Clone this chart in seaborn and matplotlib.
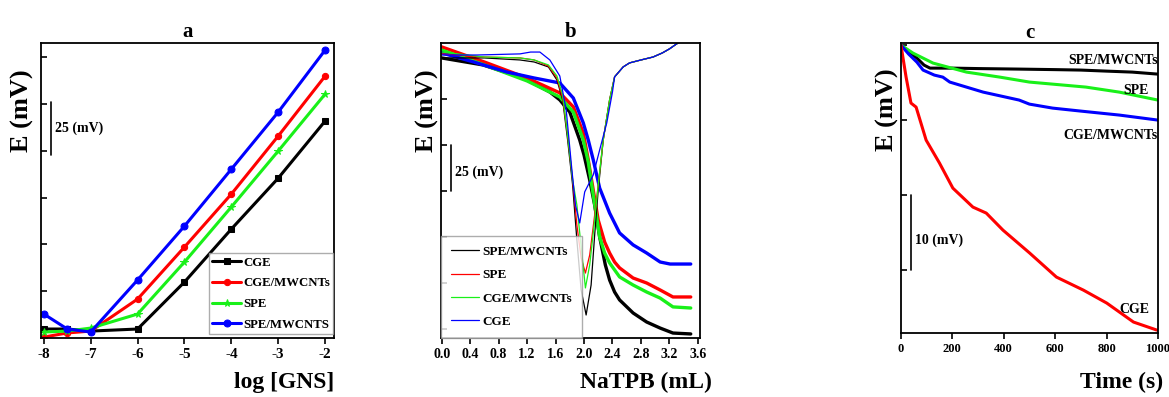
import pandas as pd
import matplotlib
matplotlib.use("Agg")
import matplotlib.pyplot as plt
import seaborn as sns

# ---- panel a : calibration ----
log_gns = [-8, -7.5, -7, -6, -5, -4, -3, -2]
a_cge = [4.8, 4.8, 3.7, 4.8, 29.9, 58.2, 85.4, 115.9]
a_cge_mwcnt = [0.5, 2.7, 3.7, 20.8, 48.6, 76.9, 107.9, 139.9]
a_spe = [3.2, 3.7, 5.3, 12.8, 40.6, 70.0, 99.9, 130.3]
a_spe_mwcnt = [12.8, 4.8, 3.2, 31.0, 59.8, 90.2, 120.7, 153.8]

# ---- panel b : titration (thick) and derivative (thin) ----
b_x_black = [0, 0.58, 1.15, 1.52, 1.66, 1.8, 1.94, 2.0, 2.08, 2.15, 2.22, 2.3, 2.36, 2.43, 2.5, 2.69, 2.88, 3.07, 3.25, 3.5]
b_black = [147.3, 143.5, 136.4, 128.8, 124.5, 117.9, 102.7, 94.6, 81.0, 67.4, 50.0, 34.8, 26.6, 20.1, 15.8, 8.7, 3.8, 0.5, -2.2, -2.7]
b_x_red = [0, 0.6, 1.2, 1.66, 1.85, 1.99, 2.06, 2.13, 2.2, 2.29, 2.36, 2.43, 2.5, 2.69, 2.88, 3.07, 3.25, 3.5]
b_red = [153.3, 145.1, 136.4, 128.3, 120.7, 106.5, 91.9, 75.5, 59.2, 47.3, 41.3, 36.4, 33.2, 27.7, 25.0, 21.2, 17.4, 17.4]
b_x_green = [0, 0.6, 1.2, 1.66, 1.85, 1.99, 2.06, 2.13, 2.22, 2.29, 2.36, 2.5, 2.69, 2.88, 3.07, 3.25, 3.5]
b_green = [151.6, 143.5, 134.8, 126.1, 117.9, 102.7, 90.8, 72.8, 50.0, 41.3, 35.9, 28.3, 23.9, 20.1, 16.8, 12.0, 11.4]
b_x_blue = [0, 0.45, 0.91, 1.3, 1.66, 1.85, 1.99, 2.06, 2.13, 2.22, 2.36, 2.5, 2.69, 2.88, 3.07, 3.21, 3.5]
b_blue = [150.0, 145.1, 139.7, 136.4, 133.7, 125.5, 112.0, 102.7, 91.9, 76.6, 63.0, 52.2, 45.7, 41.3, 36.4, 35.3, 35.3]

# derivative curves share the same rising tail
tail_x = [2.43, 2.55, 2.64, 2.8, 2.97, 3.1, 3.2, 3.3, 3.5]
tail_y = [137.0, 142.4, 144.6, 146.2, 147.8, 150.0, 152.2, 154.9, 159.2]
d_x_black = [0, 0.6, 1.1, 1.3, 1.5, 1.62, 1.7, 1.77, 1.84, 1.9, 1.96, 2.03, 2.1, 2.15, 2.2, 2.27, 2.36]
d_black = [147.3, 147.3, 146.2, 145.1, 142.4, 135.3, 124.5, 102.7, 78.3, 48.4, 21.2, 7.6, 23.9, 51.1, 75.5, 102.7, 124.5]
d_x_red = [0, 0.6, 1.1, 1.3, 1.5, 1.62, 1.7, 1.77, 1.84, 1.9, 1.96, 2.02, 2.08, 2.15, 2.2, 2.27, 2.36]
d_red = [149.5, 147.8, 147.3, 146.2, 142.9, 136.4, 125.5, 105.4, 81.0, 56.5, 38.6, 30.4, 40.2, 62.0, 78.3, 102.7, 124.5]
d_x_green = [0, 0.6, 1.1, 1.3, 1.5, 1.62, 1.7, 1.77, 1.84, 1.9, 1.95, 2.02, 2.08, 2.15, 2.2, 2.27, 2.36]
d_green = [150.5, 147.8, 147.3, 146.2, 143.5, 137.5, 127.2, 105.4, 81.0, 67.4, 48.4, 22.3, 34.8, 59.2, 78.3, 102.7, 124.5]
d_x_blue = [0, 0.5, 1.1, 1.25, 1.38, 1.52, 1.66, 1.75, 1.83, 1.88, 1.94, 2.01, 2.13, 2.22, 2.32, 2.4]
d_blue = [148.9, 148.9, 149.5, 150.5, 150.5, 146.2, 137.5, 119.0, 86.4, 67.4, 57.6, 74.5, 83.7, 97.3, 112.0, 128.8]

# ---- panel c : response time ----
c_x_black = [0, 30, 62, 90, 113, 200, 300, 460, 600, 700, 800, 900, 1000]
c_black = [40, 39.07, 38.27, 37.33, 36.93, 36.93, 36.87, 36.8, 36.73, 36.67, 36.53, 36.4, 36.13]
c_x_green = [0, 47, 125, 255, 385, 500, 720, 850, 1000]
c_green = [40, 38.93, 37.6, 36.4, 35.73, 35.07, 34.4, 33.73, 32.67]
c_x_blue = [0, 30, 62, 86, 130, 163, 190, 320, 460, 500, 590, 700, 850, 1000]
c_blue = [40, 38.8, 37.73, 36.67, 36.0, 35.73, 35.07, 33.73, 32.67, 32.13, 31.6, 31.2, 30.67, 30.0]
c_x_red = [0, 20, 39, 59, 98, 150, 202, 280, 332, 397, 501, 605, 710, 801, 905, 996]
c_red = [40, 35.73, 32.27, 31.73, 27.33, 24.27, 20.93, 18.4, 17.6, 15.33, 12.27, 9.07, 7.33, 5.6, 3.07, 2.0]

BLACK, RED, GREEN, BLUE = "#000000", "#ff0000", "#19f019", "#0000ff"

sns.set_style("ticks")
plt.rcParams['font.family'] = ['Liberation Serif', 'DejaVu Serif']
plt.rcParams['font.weight'] = 'bold'
plt.rcParams['axes.unicode_minus'] = False
plt.rcParams['axes.edgecolor'] = 'black'
plt.rcParams['axes.linewidth'] = 1.3
plt.rcParams['text.color'] = 'black'
plt.rcParams['axes.labelcolor'] = 'black'
plt.rcParams['xtick.color'] = 'black'
plt.rcParams['ytick.color'] = 'black'

fig = plt.figure(figsize=(11.69, 3.97), dpi=100)
ax_a = fig.add_axes([0.0351, 0.1486, 0.2506, 0.743])
ax_b = fig.add_axes([0.3772, 0.1486, 0.2216, 0.743])
ax_c = fig.add_axes([0.7707, 0.161, 0.2198, 0.7305])


def style_axes(ax, xfs):
    ax.tick_params(axis='y', direction='in', length=4, width=1.2, labelleft=False)
    ax.tick_params(axis='x', direction='out', length=4, width=1.2, labelsize=xfs)
    for lab in ax.get_xticklabels():
        lab.set_fontweight('bold')


def scale_bar(ax, xf, y0, y1, text, ytxt):
    tr = ax.get_yaxis_transform()
    ax.plot([xf, xf], [y0, y1], transform=tr, color='black', lw=1.2)
    ax.text(xf + 0.015, ytxt, text, transform=tr, fontsize=10, fontweight='bold', va='center', ha='left')


def set_labels(ax, xlabel, xpos, ypos, ylx):
    ax.set_xlabel(xlabel, fontsize=17, fontweight='bold')
    ax.xaxis.set_label_coords(xpos, ypos)
    ax.xaxis.label.set_ha('right')
    ax.xaxis.label.set_va('center')
    ax.set_ylabel("E (mV)", fontsize=19, fontweight='bold')
    ax.yaxis.set_label_coords(ylx, 0.77)
    ax.yaxis.label.set_va('center')


# panel a
for yv, lab, col, mk, ms in [(a_cge, "CGE", BLACK, 's', 4.5), (a_cge_mwcnt, "CGE/MWCNTs", RED, 'o', 4.5),
                             (a_spe, "SPE", GREEN, '*', 5.5), (a_spe_mwcnt, "SPE/MWCNTS", BLUE, 'o', 5)]:
    sns.lineplot(x=log_gns, y=yv, ax=ax_a, color=col, lw=2.2, marker=mk, markersize=ms,
                 markeredgecolor=col, label=lab, sort=False, estimator=None)
ax_a.set_xlim(-8.06, -1.81)
ax_a.set_ylim(0, 157.6)
ax_a.set_xticks([-8, -7, -6, -5, -4, -3, -2])
ax_a.set_yticks([0, 25, 50, 75, 100, 125, 150])
style_axes(ax_a, 11)
ax_a.legend(loc='lower right', bbox_to_anchor=(0.997, 0.014), borderaxespad=0,
            frameon=True, fancybox=False, edgecolor='#999999', handlelength=2.2, handletextpad=0.2,
            borderpad=0.25, labelspacing=0.68, prop={'weight': 'bold', 'size': 9.2})
scale_bar(ax_a, 0.034, 98, 126, "25 (mV)", 112)
ax_a.set_title("a", fontsize=15, fontweight='bold', pad=4)
set_labels(ax_a, "log [GNS]", 1.0, -0.15, -0.065)

# panel b
for xv, yv, col in [(b_x_black, b_black, BLACK), (b_x_red, b_red, RED),
                    (b_x_green, b_green, GREEN), (b_x_blue, b_blue, BLUE)]:
    sns.lineplot(x=xv, y=yv, ax=ax_b, color=col, lw=2.4, sort=False, estimator=None)
for xv, yv, col, lab in [(d_x_black, d_black, BLACK, "SPE/MWCNTs"), (d_x_red, d_red, RED, "SPE"),
                         (d_x_green, d_green, GREEN, "CGE/MWCNTs"), (d_x_blue, d_blue, BLUE, "CGE")]:
    sns.lineplot(x=xv + tail_x, y=yv + tail_y, ax=ax_b, color=col, lw=0.9, label=lab,
                 sort=False, estimator=None)
ax_b.set_xlim(-0.01, 3.63)
ax_b.set_ylim(-4.9, 155.4)
b_ticks = [0.0, 0.4, 0.8, 1.2, 1.6, 2.0, 2.4, 2.8, 3.2, 3.6]
ax_b.set_xticks(b_ticks)
ax_b.set_xticklabels([f"{v:.1f}" for v in b_ticks])
ax_b.set_yticks([0, 25, 50, 75, 100, 125])
style_axes(ax_b, 10)
ax_b.legend(loc='lower left', bbox_to_anchor=(0.0, 0.0), borderaxespad=0, frameon=True,
            fancybox=False, edgecolor='#999999', handlelength=2.1, handletextpad=0.3,
            borderpad=0.75, labelspacing=0.85, prop={'weight': 'bold', 'size': 9.5})
scale_bar(ax_b, 0.039, 75, 100, "25 (mV)", 85)
ax_b.set_title("b", fontsize=15, fontweight='bold', pad=4)
set_labels(ax_b, "NaTPB (mL)", 1.046, -0.15, -0.054)

# panel c
for xv, yv, col in [(c_x_black, c_black, BLACK), (c_x_green, c_green, GREEN),
                    (c_x_blue, c_blue, BLUE), (c_x_red, c_red, RED)]:
    sns.lineplot(x=xv, y=yv, ax=ax_c, color=col, lw=2.2, sort=False, estimator=None)
ax_c.set_xlim(0, 1000)
ax_c.set_ylim(1.6, 40.27)
ax_c.set_xticks([0, 200, 400, 600, 800, 1000])
ax_c.set_yticks([10, 20, 30, 40])
style_axes(ax_c, 9)
for txt, xx, yy in [("SPE/MWCNTs", 1000, 38.0), ("SPE", 965, 34.0),
                    ("CGE/MWCNTs", 1000, 28.0), ("CGE", 965, 4.7)]:
    ax_c.text(xx, yy, txt, fontsize=10, fontweight='bold', ha='right', va='center')
scale_bar(ax_c, 0.039, 10, 20, "10 (mV)", 14)
ax_c.set_title("c", fontsize=15, fontweight='bold', pad=2)
set_labels(ax_c, "Time (s)", 1.02, -0.169, -0.054)

fig.savefig("out.png", dpi=100)
